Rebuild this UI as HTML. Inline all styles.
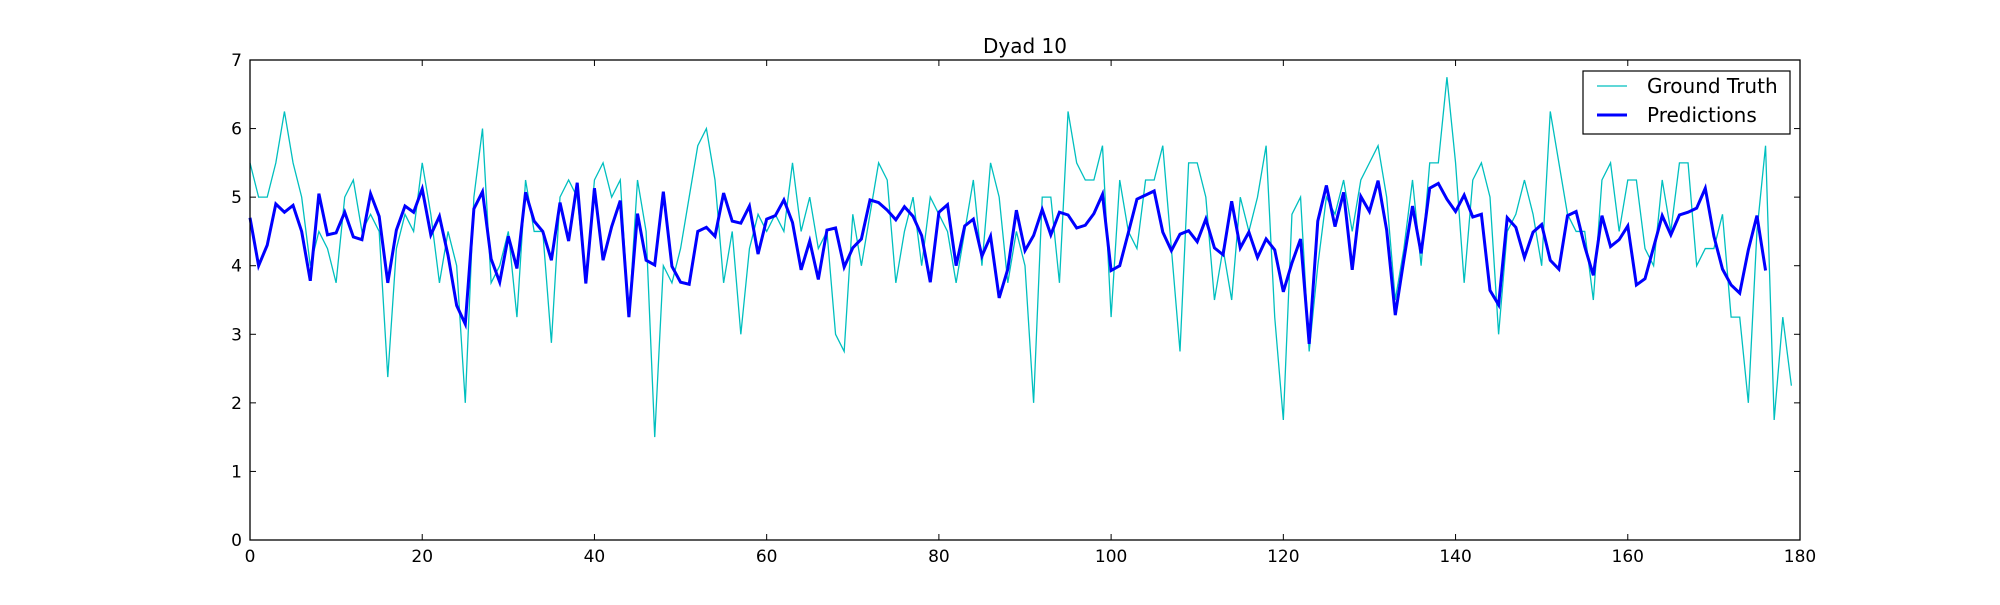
<!DOCTYPE html>
<html><head><meta charset="utf-8"><style>
html,body{margin:0;padding:0;background:#fff;}
svg text{font-family:"DejaVu Sans","Liberation Sans",sans-serif;fill:#000;}
</style></head><body>
<svg id="chart" width="2000" height="600" viewBox="0 0 2000 600" xmlns="http://www.w3.org/2000/svg">
<rect width="2000" height="600" fill="#fff"/>
<text x="1025" y="53" font-size="20" text-anchor="middle">Dyad 10</text>
<g id="grid-ticks"></g>
<g id="series"></g>
<rect x="250" y="60" width="1550" height="480" fill="none" stroke="#000" stroke-width="1.3"/>
<g>
<rect x="1583" y="71" width="207" height="63" fill="#fff" stroke="#000" stroke-width="1.2"/>
<line x1="1597" y1="86" x2="1627" y2="86" stroke="#00bfbf" stroke-width="1.3"/>
<text x="1647" y="93" font-size="20">Ground Truth</text>
<line x1="1597" y1="115" x2="1627" y2="115" stroke="#0000ff" stroke-width="3"/>
<text x="1647" y="122" font-size="20">Predictions</text>
</g>
</svg>
<script>
const groundTruth = [5.5,5,5,5.5,6.25,5.5,5,4,4.5,4.25,
3.75,5,5.25,4.5,4.75,4.5,2.375,4.25,4.75,4.5,
5.5,4.75,3.75,4.5,4,2,5,6,3.75,4,
4.5,3.25,5.25,4.5,4.5,2.875,5,5.25,5,3.75,
5.25,5.5,5,5.25,3.25,5.25,4.5,1.5,4,3.75,
4.25,5,5.75,6,5.25,3.75,4.5,3,4.25,4.75,
4.5,4.75,4.5,5.5,4.5,5,4.25,4.5,3,2.75,
4.75,4,4.75,5.5,5.25,3.75,4.5,5,4,5,
4.75,4.5,3.75,4.5,5.25,4,5.5,5,3.75,4.5,
4,2,5,5,3.75,6.25,5.5,5.25,5.25,5.75,
3.25,5.25,4.5,4.25,5.25,5.25,5.75,4.25,2.75,5.5,
5.5,5,3.5,4.25,3.5,5,4.5,5,5.75,3.25,
1.75,4.75,5,2.75,4,5,4.75,5.25,4.5,5.25,
5.5,5.75,5,3.5,4.25,5.25,4,5.5,5.5,6.75,
5.5,3.75,5.25,5.5,5,3,4.5,4.75,5.25,4.75,
4,6.25,5.5,4.75,4.5,4.5,3.5,5.25,5.5,4.5,
5.25,5.25,4.25,4,5.25,4.5,5.5,5.5,4,4.25,
4.25,4.75,3.25,3.25,2,4.5,5.75,1.75,3.25,2.25];
const predictions = [4.7,4.0,4.3,4.9,4.78,4.88,4.5,3.78,5.05,4.45,
4.48,4.78,4.42,4.38,5.05,4.72,3.75,4.52,4.87,4.78,
5.12,4.45,4.72,4.15,3.42,3.15,4.83,5.08,4.1,3.76,
4.43,3.96,5.07,4.65,4.5,4.08,4.92,4.36,5.21,3.74,
5.13,4.08,4.57,4.95,3.25,4.76,4.08,4.01,5.08,3.99,
3.76,3.73,4.5,4.56,4.43,5.06,4.65,4.62,4.87,4.17,
4.68,4.73,4.96,4.63,3.94,4.36,3.8,4.52,4.55,3.98,
4.26,4.39,4.96,4.92,4.81,4.67,4.86,4.72,4.44,3.76,
4.78,4.89,4.0,4.58,4.68,4.14,4.43,3.53,3.95,4.81,
4.22,4.44,4.82,4.45,4.78,4.74,4.55,4.59,4.76,5.04,
3.93,4.0,4.48,4.97,5.03,5.09,4.49,4.22,4.46,4.51,
4.35,4.68,4.26,4.16,4.94,4.26,4.49,4.12,4.39,4.23,
3.62,4.04,4.39,2.86,4.65,5.17,4.57,5.07,3.94,5.01,
4.79,5.24,4.52,3.28,4.09,4.87,4.18,5.13,5.2,4.97,
4.79,5.03,4.71,4.75,3.64,3.43,4.7,4.56,4.12,4.49,
4.6,4.08,3.95,4.73,4.79,4.28,3.86,4.73,4.28,4.38,
4.58,3.72,3.81,4.27,4.73,4.45,4.74,4.78,4.84,5.13,
4.43,3.95,3.72,3.6,4.23,4.73,3.93];
const xTicks = [0,20,40,60,80,100,120,140,160,180];
const yTicks = [0,1,2,3,4,5,6,7];

const X0=250,X1=1800,Y0=540,Y1=60,XMAX=180,YMAX=7;
const xs = v => X0 + v/XMAX*(X1-X0);
const ys = v => Y0 - v/YMAX*(Y0-Y1);
const NS="http://www.w3.org/2000/svg";
const tg=document.getElementById('grid-ticks');
xTicks.forEach(t=>{
  const x=xs(t);
  [[Y0,Y0-6],[Y1,Y1+6]].forEach(([a,b])=>{
    const l=document.createElementNS(NS,'line');
    l.setAttribute('x1',x);l.setAttribute('x2',x);l.setAttribute('y1',a);l.setAttribute('y2',b);
    l.setAttribute('stroke','#000');l.setAttribute('stroke-width','1');
    
    
    tg.appendChild(l);
  });
  const tx=document.createElementNS(NS,'text');
  tx.setAttribute('x',x);tx.setAttribute('y',Y0+22);tx.setAttribute('font-size','17');tx.setAttribute('text-anchor','middle');
  tx.textContent=t;
  
  
  tg.appendChild(tx);
});
yTicks.forEach(t=>{
  const y=ys(t);
  [[X0,X0+6],[X1,X1-6]].forEach(([a,b])=>{
    const l=document.createElementNS(NS,'line');
    l.setAttribute('x1',a);l.setAttribute('x2',b);l.setAttribute('y1',y);l.setAttribute('y2',y);
    l.setAttribute('stroke','#000');l.setAttribute('stroke-width','1');
    
    
    tg.appendChild(l);
  });
  const tx=document.createElementNS(NS,'text');
  tx.setAttribute('x',X0-8);tx.setAttribute('y',y+6);tx.setAttribute('font-size','17');tx.setAttribute('text-anchor','end');
  tx.textContent=t;
  
  
  tg.appendChild(tx);
});
const sg=document.getElementById('series');
function line(arr,color,w,name){
  const p=document.createElementNS(NS,'polyline');
  p.setAttribute('points',arr.map((v,i)=>xs(i).toFixed(2)+','+ys(v).toFixed(2)).join(' '));
  p.setAttribute('fill','none');p.setAttribute('stroke',color);p.setAttribute('stroke-width',w);
  p.setAttribute('stroke-linejoin','miter');
  
  
  sg.appendChild(p);
}
line(groundTruth,'#00bfbf',1.3,'ground-truth-line');
line(predictions,'#0000ff',3,'predictions-line');
</script>
</body></html>
